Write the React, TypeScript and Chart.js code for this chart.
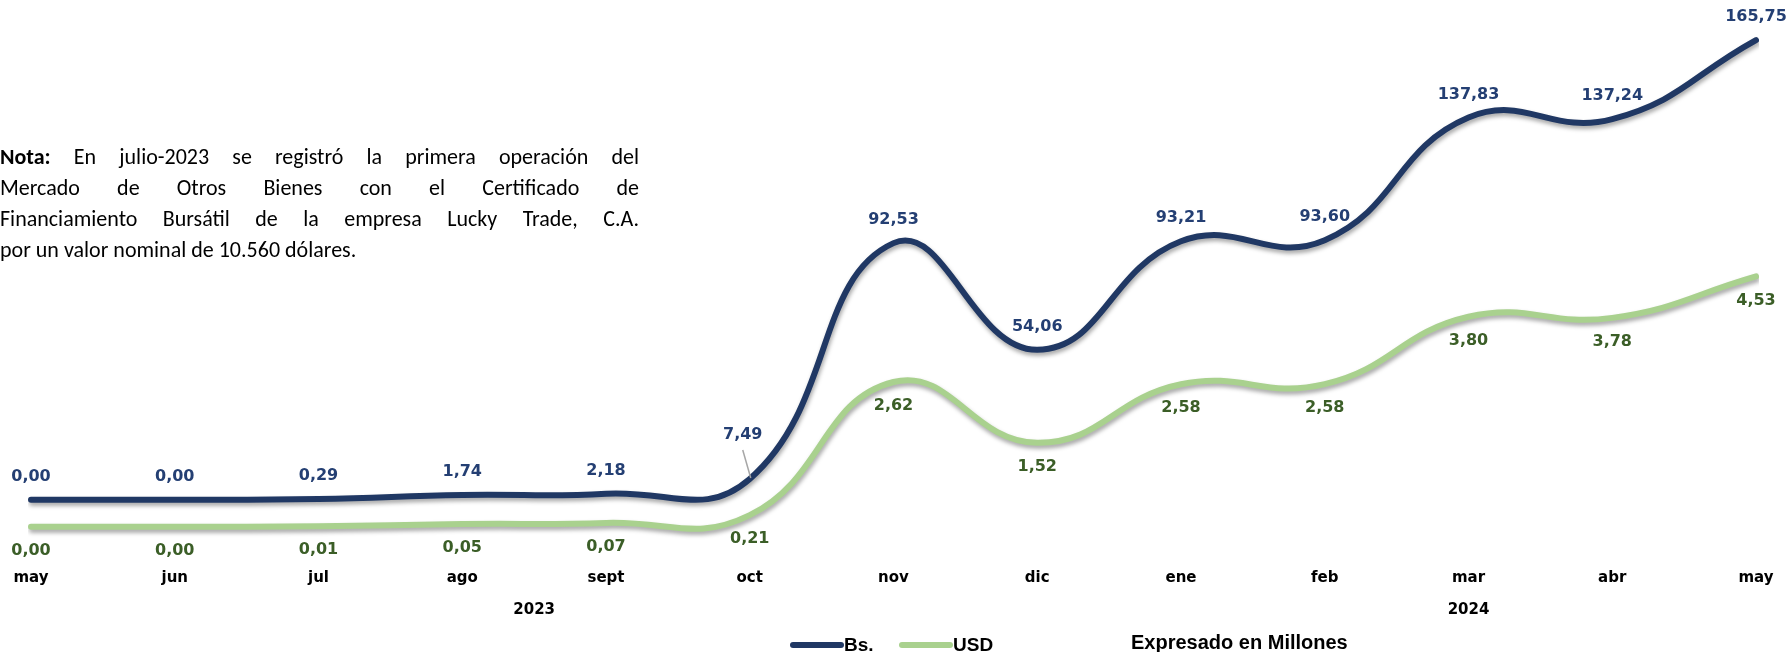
import React, { useEffect, useRef } from 'react';
import { Chart, registerables } from 'chart.js';

Chart.register(...registerables);

// ---- data ----
const months = ['may', 'jun', 'jul', 'ago', 'sept', 'oct', 'nov', 'dic', 'ene', 'feb', 'mar', 'abr', 'may'];
const bsValues = [0, 0, 0.29, 1.74, 2.18, 7.49, 92.53, 54.06, 93.21, 93.6, 137.83, 137.24, 165.75];
const usdValues = [0, 0, 0.01, 0.05, 0.07, 0.21, 2.62, 1.52, 2.58, 2.58, 3.8, 3.78, 4.53];
const years = ['2023', '2024'];
const yearFirstIdx = [0, 8];
const yearLastIdx = [7, 12];
const seriesNames = ['Bs.', 'USD'];
const unitNote = 'Expresado en Millones';
const noteLines = [
  'En julio-2023 se registró la primera operación del',
  'Mercado de Otros Bienes con el Certificado de',
  'Financiamiento Bursátil de la empresa Lucky Trade, C.A.',
  'por un valor nominal de 10.560 dólares.',
];

// ---- styles ----
const W = 1791;
const H = 652;
const BS_LINE = '#203864';
const BS_TEXT = '#243F73';
const USD_LINE = '#A9D18E';
const USD_TEXT = '#3B5E27';
const LABEL_FONT = 'bold 16px "DejaVu Sans", Verdana, sans-serif';
const TICK_FONT_FAMILY = '"DejaVu Sans", Verdana, sans-serif';

const fmt = (v: number) => v.toFixed(2).replace('.', ',');

const shadowPlugin = {
  id: 'lineShadow',
  beforeDatasetDraw(chart: any) {
    const ctx = chart.ctx;
    ctx.save();
    ctx.shadowColor = 'rgba(0,0,0,0.35)';
    ctx.shadowBlur = 4;
    ctx.shadowOffsetX = 1;
    ctx.shadowOffsetY = 3;
  },
  afterDatasetDraw(chart: any) {
    chart.ctx.restore();
  },
};

const labelsPlugin = {
  id: 'valueLabels',
  afterDatasetsDraw(chart: any) {
    const ctx = chart.ctx;
    ctx.save();
    ctx.font = LABEL_FONT;
    ctx.textAlign = 'center';
    ctx.textBaseline = 'middle';
    chart.data.datasets.forEach((ds: any, di: number) => {
      const meta = chart.getDatasetMeta(di);
      meta.data.forEach((pt: any, i: number) => {
        const v = ds.data[i] as number;
        let dx = 0;
        let dy = di === 0 ? -23 : 24;
        if (di === 0 && i === 5) {
          dx = -7;
          dy = -44;
          ctx.strokeStyle = '#A6A6A6';
          ctx.lineWidth = 1.5;
          ctx.beginPath();
          ctx.moveTo(pt.x + dx, pt.y + dy + 15);
          ctx.lineTo(pt.x + 1, pt.y - 1);
          ctx.stroke();
        }
        ctx.fillStyle = di === 0 ? BS_TEXT : USD_TEXT;
        ctx.fillText(fmt(v), pt.x + dx, pt.y + dy);
      });
    });
    ctx.restore();
  },
};

const extrasPlugin = {
  id: 'extras',
  afterDraw(chart: any) {
    const ctx = chart.ctx;
    const x = chart.scales.x;
    ctx.save();
    // year group labels
    ctx.font = `bold 15px ${TICK_FONT_FAMILY}`;
    ctx.fillStyle = '#000';
    ctx.textAlign = 'center';
    ctx.textBaseline = 'middle';
    years.forEach((y, k) => {
      const cx = (x.getPixelForValue(yearFirstIdx[k]) + x.getPixelForValue(yearLastIdx[k])) / 2;
      ctx.fillText(y, cx, 610);
    });
    // legend
    const items = [
      { name: seriesNames[0], color: BS_LINE, x0: 793, x1: 841 },
      { name: seriesNames[1], color: USD_LINE, x0: 902, x1: 950 },
    ];
    ctx.lineCap = 'round';
    ctx.lineWidth = 6;
    ctx.font = 'bold 19px "Liberation Sans", Arial, sans-serif';
    ctx.textAlign = 'left';
    items.forEach((it) => {
      ctx.strokeStyle = it.color;
      ctx.beginPath();
      ctx.moveTo(it.x0, 645);
      ctx.lineTo(it.x1, 645);
      ctx.stroke();
      ctx.fillStyle = '#000';
      ctx.fillText(it.name, it.x1 + 3, 646);
    });
    ctx.font = 'bold 20px "Liberation Sans", Arial, sans-serif';
    ctx.fillText(unitNote, 1131, 643);
    ctx.restore();
  },
};

export default function App() {
  const ref = useRef<HTMLCanvasElement | null>(null);

  useEffect(() => {
    if (!ref.current) return;
    const chart = new Chart(ref.current, {
      type: 'line',
      data: {
        labels: months,
        datasets: [
          {
            label: seriesNames[0],
            data: bsValues,
            borderColor: BS_LINE,
            backgroundColor: BS_LINE,
            borderWidth: 6,
            borderCapStyle: 'round',
            borderJoinStyle: 'round',
            tension: 0.45,
            pointRadius: 0,
            yAxisID: 'yBs',
          },
          {
            label: seriesNames[1],
            data: usdValues,
            borderColor: USD_LINE,
            backgroundColor: USD_LINE,
            borderWidth: 6,
            borderCapStyle: 'round',
            borderJoinStyle: 'round',
            tension: 0.45,
            pointRadius: 0,
            yAxisID: 'yUsd',
          },
        ],
      },
      options: {
        responsive: false,
        maintainAspectRatio: false,
        animation: false,
        layout: { padding: { left: 31, right: 35, top: 10, bottom: 57 } },
        plugins: {
          legend: { display: false },
          tooltip: { enabled: false },
        },
        scales: {
          x: {
            offset: false,
            grid: { display: false, drawTicks: false },
            border: { display: false },
            ticks: {
              padding: 8,
              color: '#000',
              font: { family: TICK_FONT_FAMILY, size: 15, weight: 'bold' },
              maxRotation: 0,
              autoSkip: false,
            },
          },
          yBs: {
            display: false,
            min: -22.1,
            max: 176.6,
          },
          yUsd: {
            display: false,
            min: -0.619,
            max: 9.35,
          },
        },
      },
      plugins: [shadowPlugin, labelsPlugin, extrasPlugin],
    } as any);
    return () => chart.destroy();
  }, []);

  return (
    <div style={{ position: 'absolute', left: 0, top: 0, width: W, height: H, background: '#fff', overflow: 'hidden' }}>
      <canvas ref={ref} width={W} height={H} style={{ position: 'absolute', left: 0, top: 0, width: W, height: H }} />
      <div
        style={{
          position: 'absolute',
          left: 0,
          top: 141,
          width: 639,
          fontFamily: 'Carlito, Lato, sans-serif',
          fontSize: 22,
          lineHeight: '31px',
          color: '#000',
        }}
      >
        {noteLines.map((line, i) => (
          <div
            key={i}
            style={{
              whiteSpace: 'nowrap',
              textAlign: i < noteLines.length - 1 ? 'justify' : 'left',
              textAlignLast: i < noteLines.length - 1 ? 'justify' : 'left',
            }}
          >
            {i === 0 ? (
              <>
                <b>Nota:</b> {line}
              </>
            ) : (
              line
            )}
          </div>
        ))}
      </div>
    </div>
  );
}
